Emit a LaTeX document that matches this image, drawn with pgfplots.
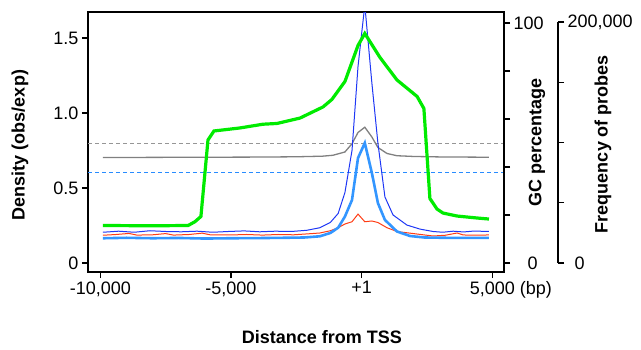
\documentclass[border=0pt]{standalone}
\usepackage{pgfplots}
\pgfplotsset{compat=1.18}
\usepackage{fontspec}
\setmainfont{Liberation Sans}
\definecolor{cgreen}{RGB}{0,235,0}
\definecolor{cblue}{RGB}{30,55,245}
\definecolor{clblue}{RGB}{51,150,255}
\definecolor{cred}{RGB}{255,60,20}
\definecolor{cgray}{RGB}{128,128,128}
\definecolor{cdgray}{RGB}{150,150,150}
\definecolor{cdashblue}{RGB}{40,140,255}
\begin{document}
\begin{tikzpicture}
\path[use as bounding box] (0pt,0pt) rectangle (641pt,349pt);
\pgfplotsset{every axis/.append style={
  font=\fontsize{18}{21}\selectfont,
  /pgf/number format/assume math mode=true,
  axis line style={line width=1.1pt},
  every tick/.style={line width=1.1pt, black},
  major tick length=6pt,
  tick align=outside,
  scale only axis,
  scaled x ticks=false, scaled y ticks=false}}
\begin{axis}[at={(88pt,77pt)}, anchor=south west, width=416pt, height=260pt,
  xmin=-10470, xmax=5445, ymin=-0.06, ymax=1.673,
  xtick={-10000,-5000,0,5000},
  xticklabels={{-10,000},{-5,000},{+1},{5,000\rlap{ (bp)}}},
  ytick={0,0.5,1,1.5}, yticklabels={0,0.5,1.0,1.5},
  tick pos=left, clip=true]
\addplot[color=cdgray, line width=0.9pt, dash pattern=on 4pt off 3pt] coordinates {(-10470,0.8) (5445,0.8)};
\addplot[color=cdashblue, line width=1pt, dash pattern=on 4pt off 3pt] coordinates {(-10470,0.6) (5445,0.6)};
% gray
\addplot[color=cgray, line width=1.3pt] coordinates {
(-9900,0.703) (-8000,0.704) (-6000,0.705) (-4000,0.706) (-2500,0.708) (-1500,0.712) (-1100,0.718) (-640,0.74) (-370,0.795) (-140,0.87) (120,0.905) (390,0.84) (620,0.77) (970,0.73) (1350,0.715) (2000,0.71) (3000,0.707) (4870,0.705)};
% red
\addplot[color=cred, line width=1pt] coordinates {
(-9900,0.185) (-9400,0.19) (-8900,0.197) (-8600,0.186) (-8000,0.188) (-7500,0.196) (-7200,0.186) (-6600,0.19) (-6100,0.199) (-5800,0.188) (-5000,0.187) (-4400,0.19) (-3800,0.186) (-3200,0.19) (-2600,0.188) (-2000,0.195) (-1600,0.2) (-1200,0.215) (-900,0.235) (-640,0.26) (-370,0.275) (-140,0.326) (120,0.275) (390,0.28) (620,0.27) (970,0.235) (1350,0.21) (1800,0.2) (2120,0.193) (2730,0.18) (3200,0.185) (3650,0.2) (3880,0.187) (4300,0.185) (4870,0.187)};
% light blue
\addplot[color=clblue, line width=2.6pt] coordinates {
(-9900,0.165) (-9000,0.168) (-8000,0.165) (-7000,0.167) (-6000,0.163) (-5000,0.165) (-4000,0.166) (-3000,0.168) (-2200,0.17) (-1600,0.178) (-1200,0.2) (-900,0.235) (-640,0.31) (-370,0.42) (-140,0.70) (120,0.80) (390,0.60) (620,0.40) (890,0.287) (1350,0.21) (1850,0.18) (2400,0.17) (3200,0.168) (4000,0.167) (4870,0.167)};
% dark blue
\addplot[color=cblue, line width=1pt] coordinates {
(-9900,0.205) (-9300,0.212) (-8700,0.205) (-8100,0.215) (-7500,0.21) (-6900,0.208) (-6300,0.212) (-5700,0.205) (-5100,0.21) (-4500,0.214) (-3900,0.208) (-3300,0.212) (-2700,0.21) (-2100,0.218) (-1600,0.235) (-1200,0.27) (-900,0.33) (-640,0.47) (-370,0.75) (-140,1.31) (120,1.72) (390,1.2) (620,0.8) (890,0.44) (1200,0.32) (1730,0.253) (2230,0.226) (2730,0.21) (3100,0.205) (3500,0.212) (3900,0.207) (4300,0.213) (4870,0.21)};
% green
\addplot[color=cgreen, line width=3.2pt] coordinates {
(-9900,0.25) (-8000,0.248) (-6640,0.25) (-6380,0.275) (-6150,0.31) (-5880,0.82) (-5650,0.88) (-4660,0.90) (-3780,0.925) (-3240,0.93) (-2360,0.966) (-1480,1.04) (-1140,1.09) (-640,1.21) (-140,1.45) (120,1.53) (700,1.37) (1350,1.22) (2120,1.11) (2380,1.03) (2610,0.43) (2880,0.36) (3110,0.333) (3650,0.313) (4410,0.30) (4870,0.293)};
\end{axis}
\begin{axis}[at={(88pt,77pt)}, anchor=south west, width=416pt, height=260pt,
  xmin=0, xmax=1, ymin=-3.75, ymax=104.58,
  hide x axis, axis y line*=right,
  ytick={0,20,...,100}, yticklabels={\hspace{14pt}0,,,,,100}]
\end{axis}
\begin{axis}[at={(88pt,86pt)}, anchor=south west, width=470pt, height=241pt,
  xmin=0, xmax=1, ymin=0, ymax=200000,
  hide x axis, axis y line*=right,
  ytick={0,50000,...,200000}, yticklabels={\hspace{7pt}0,,,,{200,000}}]
\end{axis}
\node[rotate=90, font=\bfseries\fontsize{18}{21}\selectfont] at (20pt,204pt) {Density (obs/exp)};
\node[font=\bfseries\fontsize{18}{21}\selectfont] at (322pt,12pt) {Distance from TSS};
\node[rotate=90, font=\bfseries\fontsize{18}{21}\selectfont] at (537pt,207pt) {GC percentage};
\node[rotate=90, font=\bfseries\fontsize{18}{21}\selectfont] at (603pt,205pt) {Frequency of probes};
\end{tikzpicture}
\end{document}
